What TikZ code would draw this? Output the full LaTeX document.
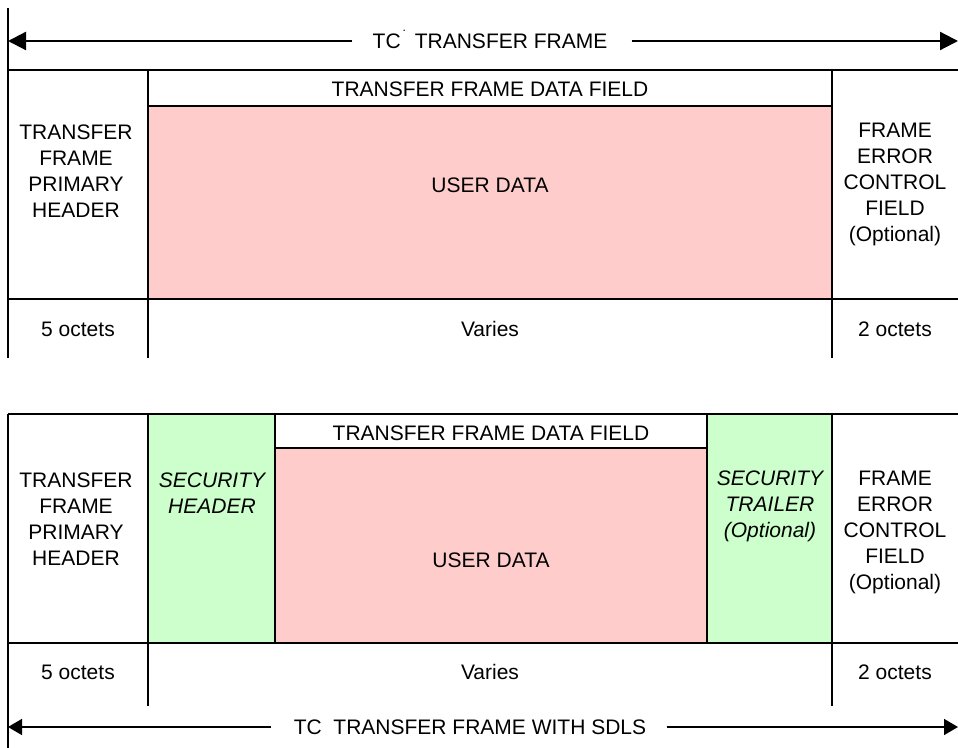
\documentclass[tikz,border=0pt]{standalone}
\usepackage{fontspec}
\setmainfont{Liberation Sans}
\usetikzlibrary{arrows.meta}
\definecolor{udpink}{HTML}{FFCCCC}
\definecolor{secgreen}{HTML}{CCFFCC}
\begin{document}
\begin{tikzpicture}[x=0.5pt,y=-0.5pt,
  frame/.style={line width=0.9pt},
  thin/.style={line width=0.7pt},
  txt/.style={font=\fontsize{10.5}{13}\selectfont, align=center, inner sep=0pt},
  itxt/.style={font=\fontsize{10.5}{13}\selectfont\itshape, align=center, inner sep=0pt},
  bigdim/.style={line width=1.1pt, -{Triangle[length=9pt,width=9pt]}},
  smalldim/.style={line width=0.8pt, -{Triangle[length=7pt,width=8pt]}}]
\useasboundingbox (0,0) rectangle (958,748);

% ================= TOP: TC TRANSFER FRAME =================
\draw[frame] (8,8) -- (8,358);
\coordinate (tl) at (8,41);
\coordinate (tr) at (958,41);
\node[txt] (ttitle) at (490,41) {TC\hspace{1pt}\smash{\fontsize{6}{6}\selectfont\raisebox{2.6ex}{.}}\hspace{1.5pt} TRANSFER FRAME};
\draw[bigdim] ([xshift=-10pt]ttitle.west) -- (tl);
\draw[bigdim] ([xshift=12pt]ttitle.east) -- (tr);

\draw[frame] (8,70) -- (958,70);
\draw[frame] (148,70) rectangle (832,106);
\draw[frame, fill=udpink] (148,106) rectangle (832,299);
\draw[frame] (8,299) -- (958,299);
\draw[frame] (148,70) -- (148,358);
\draw[frame] (832,70) -- (832,358);

\node[txt] (tdf) at (490,89) {TRANSFER FRAME DATA FIELD};
\node[txt] (tud) at (490,185) {USER DATA};
\node[txt] (tph) at (76,171) {TRANSFER\\FRAME\\PRIMARY\\HEADER};
\node[txt] (tfe) at (895,184) {FRAME\\ERROR\\CONTROL\\FIELD\\(Optional)};
\node[txt] (t5) at (78,329) {5 octets};
\node[txt] (tv) at (490,329) {Varies};
\node[txt] (t2) at (895,329) {2 octets};

% ================= BOTTOM: TC TRANSFER FRAME WITH SDLS =================
\draw[frame] (8,414) -- (8,748);
\draw[frame] (8,414) -- (958,414);
\draw[frame, fill=secgreen] (148,414) rectangle (275,643);
\draw[frame] (275,414) rectangle (707,448);
\draw[frame, fill=udpink] (275,448) rectangle (707,643);
\draw[frame, fill=secgreen] (707,414) rectangle (832,643);
\draw[frame] (8,643) -- (958,643);
\draw[thin] (148,643) -- (148,706);
\draw[thin] (832,643) -- (832,706);

\node[txt] (bph) at (76,519) {TRANSFER\\FRAME\\PRIMARY\\HEADER};
\node[itxt] (bsh) at (212,493) {SECURITY\\HEADER};
\node[txt] (bdf) at (491,433) {TRANSFER FRAME DATA FIELD};
\node[txt] (bud) at (491,560) {USER DATA};
\node[itxt] (bst) at (770,506) {SECURITY\\TRAILER\\(Optional)};
\node[txt] (bfe) at (895,532) {FRAME\\ERROR\\CONTROL\\FIELD\\(Optional)};
\node[txt] (b5) at (78,672) {5 octets};
\node[txt] (bv) at (490,672) {Varies};
\node[txt] (b2) at (895,672) {2 octets};

\coordinate (bl) at (8,727);
\coordinate (br) at (958,727);
\node[txt] (btitle) at (470,727) {TC\ \ TRANSFER FRAME WITH SDLS};
\draw[smalldim] ([xshift=-11pt]btitle.west) -- (bl);
\draw[smalldim] ([xshift=10pt]btitle.east) -- (br);
\end{tikzpicture}
\end{document}
